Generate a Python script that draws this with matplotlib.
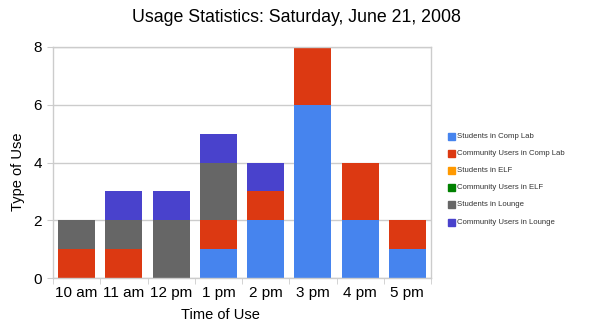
import numpy as np
import matplotlib

matplotlib.use("Agg")
import matplotlib.pyplot as plt
from matplotlib.patches import Rectangle

plt.rcParams["font.family"] = ["Liberation Sans", "DejaVu Sans"]

hours = ["10 am", "11 am", "12 pm", "1 pm", "2 pm", "3 pm", "4 pm", "5 pm"]
students_comp_lab = [0, 0, 0, 1, 2, 6, 2, 1]
community_comp_lab = [1, 1, 0, 1, 1, 2, 2, 1]
students_elf = [0, 0, 0, 0, 0, 0, 0, 0]
community_elf = [0, 0, 0, 0, 0, 0, 0, 0]
students_lounge = [1, 1, 2, 2, 0, 0, 0, 0]
community_lounge = [0, 1, 1, 1, 1, 0, 0, 0]

series = [
    ("Students in Comp Lab", students_comp_lab, "#4684EE"),
    ("Community Users in Comp Lab", community_comp_lab, "#DC3912"),
    ("Students in ELF", students_elf, "#FF9900"),
    ("Community Users in ELF", community_elf, "#008000"),
    ("Students in Lounge", students_lounge, "#666666"),
    ("Community Users in Lounge", community_lounge, "#4942CC"),
]

W, H = 591, 332
fig = plt.figure(figsize=(W / 100, H / 100), dpi=100)
ax = fig.add_axes([53 / W, 1 - 278 / H, (431 - 53) / W, (278 - 47) / H])

x = np.arange(len(hours))
bottom = np.zeros(len(hours))
for name, vals, color in series:
    vals = np.array(vals, dtype=float)
    ax.bar(x, vals, bottom=bottom, width=0.78, color=color, linewidth=0, zorder=2)
    bottom += vals

ax.set_xlim(-0.5, len(hours) - 0.5)
ax.set_ylim(0, 8)
ax.set_yticks([0, 2, 4, 6, 8])
ax.grid(axis="y", color="#cccccc", linewidth=1, zorder=0)
for s in ax.spines.values():
    s.set_color("#cccccc")
    s.set_linewidth(1)

ax.set_xticks(x)
ax.set_xticklabels(hours)
ax.set_xticks(np.arange(-0.5, len(hours), 1), minor=True)
ax.tick_params(axis="x", which="major", length=0, pad=6, labelsize=11)
ax.tick_params(axis="x", which="minor", length=4, color="#cccccc")
ax.tick_params(axis="y", length=4, color="#cccccc", labelsize=11, pad=4)

fig.text(296 / W, 1 - 18 / H, "Usage Statistics: Saturday, June 21, 2008",
         ha="center", va="center", fontsize=12.8)
fig.text(220 / W, 1 - 315 / H, "Time of Use", ha="center", va="center", fontsize=10.5)
fig.text(18 / W, 1 - 172 / H, "Type of Use", ha="center", va="center",
         rotation=90, fontsize=10.5)

# legend drawn as small squares with labels in figure coordinates
for i, (name, vals, color) in enumerate(series):
    yc = 136 + i * 17.2
    fig.patches.append(Rectangle((448 / W, 1 - (yc + 3.5) / H), 7 / W, 7 / H,
                                 transform=fig.transFigure, color=color))
    fig.text(457 / W, 1 - yc / H, name, ha="left", va="center",
             fontsize=5.6, color="#333333")

fig.savefig("out.png", dpi=100)
